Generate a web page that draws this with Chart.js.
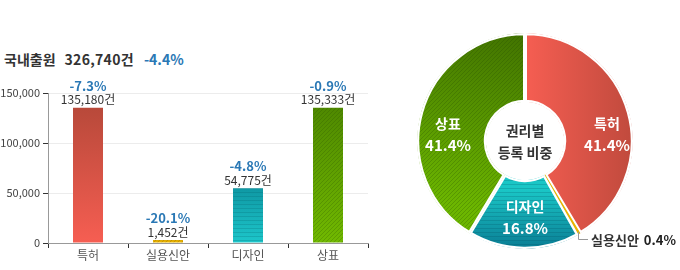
<!DOCTYPE html>
<html>
<head>
<meta charset="utf-8">
<script src="https://cdn.jsdelivr.net/npm/chart.js@4"></script>
<style>
    body { margin: 0; width: 680px; height: 270px; overflow: hidden; background: #fff; font-family: "Noto Sans CJK KR", sans-serif; }
    .title { position: absolute; left: 4px; top: 49px; font-size: 14px; font-weight: bold; color: #333; white-space: nowrap; }
    .title .rate { color: #2a78b5; margin-left: 10px; }
    .title .total { margin-left: 9px; letter-spacing: 0.3px; }
    #bar { position: absolute; left: 0; top: 0; }
    #pie { position: absolute; left: 400px; top: 0; }
</style>
</head>
<body>
<div class="title">국내출원<span class="total"></span><span class="rate"></span></div>
<canvas id="bar" width="380" height="270"></canvas>
<canvas id="pie" width="280" height="270"></canvas>
<script>
// data
const categories = ["특허", "실용신안", "디자인", "상표"];
const counts = [135180, 1452, 54775, 135333];
const changes = ["-7.3%", "-20.1%", "-4.8%", "-0.9%"];
const shares = [41.4, 0.4, 16.8, 41.4];
const yTicks = [0, 50000, 100000, 150000];
const totalCount = "326,740건";
const totalChange = "-4.4%";

const FONT = "'Noto Sans CJK KR', sans-serif";
const BLUE = "#2a78b5";

document.querySelector(".title .total").textContent = totalCount;
document.querySelector(".title .rate").textContent = totalChange;

// fill = gradient + optional stripes, painted on a canvas the size of the chart
const makeFill = (chart, paint, stripe, dir, gap) => {
    const c = document.createElement("canvas");
    c.width = chart.width;
    c.height = chart.height;
    const g = c.getContext("2d");
    g.fillStyle = paint(g);
    g.fillRect(0, 0, c.width, c.height);
    if (stripe) {
        g.strokeStyle = stripe;
        g.lineWidth = 1;
        g.beginPath();
        if (dir === "h") {
            for (let y = 0.5; y < c.height; y += gap) { g.moveTo(0, y); g.lineTo(c.width, y); }
        } else {
            for (let x = -c.height; x < c.width; x += gap) { g.moveTo(x, c.height); g.lineTo(x + c.height, 0); }
        }
        g.stroke();
    }
    return chart.ctx.createPattern(c, "no-repeat");
};

const grad = (x0, y0, x1, y1, stops) => g => {
    const gr = g.createLinearGradient(x0, y0, x1, y1);
    stops.forEach((s, i) => gr.addColorStop(i / (stops.length - 1), s));
    return gr;
};

// ===========================================================================
// bar chart
const barFill = (ctx) => {
    const chart = ctx.chart;
    if (!chart.chartArea) return "#ccc";
    const y = chart.scales.y;
    const i = ctx.dataIndex;
    const top = y.getPixelForValue(counts[i]);
    const base = y.getPixelForValue(0);
    if (i === 0) return makeFill(chart, grad(0, top, 0, base, ["#b8493a", "#f65e52"]));
    if (i === 1) return makeFill(chart, grad(0, top - 2, 0, base, ["#d9a400", "#eebb00"]), "rgba(150,100,0,0.35)", "d", 4);
    if (i === 2) return makeFill(chart, grad(0, top, 0, base, ["#0f98a4", "#1dc6ca"]), "rgba(0,90,100,0.2)", "h", 4);
    return makeFill(chart, grad(0, top, 0, base, ["#4f8900", "#71b900"]), "rgba(40,80,0,0.25)", "d", 4);
};

const barLabels = {
    id: "barLabels",
    afterDatasetsDraw(chart) {
        const c = chart.ctx;
        c.save();
        c.textAlign = "center";
        c.textBaseline = "middle";
        chart.getDatasetMeta(0).data.forEach((el, i) => {
            c.fillStyle = "#333";
            c.font = "12px " + FONT;
            c.fillText(counts[i].toLocaleString("en-US") + "건", el.x, el.y - 8);
            c.fillStyle = BLUE;
            c.font = "bold 13px " + FONT;
            c.fillText(changes[i], el.x, el.y - 22);
        });
        c.restore();
    }
};

new Chart(document.getElementById("bar"), {
    type: "bar",
    data: {
        labels: categories,
        datasets: [{
            data: counts,
            backgroundColor: barFill,
            barPercentage: 0.75,
            categoryPercentage: 0.5,
            minBarLength: 3
        }]
    },
    options: {
        responsive: false,
        animation: false,
        events: [],
        layout: { padding: { top: 93, right: 12, left: 0, bottom: 0 } },
        plugins: { legend: { display: false }, tooltip: { enabled: false } },
        scales: {
            y: {
                min: 0,
                max: yTicks[yTicks.length - 1],
                afterBuildTicks: s => { s.ticks = yTicks.map(v => ({ value: v })); },
                afterFit: s => { s.width = 48; },
                ticks: {
                    color: "#444",
                    font: { family: FONT, size: 11 },
                    padding: 3,
                    callback: v => v.toLocaleString("en-US")
                },
                grid: { color: "#ececec", tickColor: "#333", tickLength: 5 },
                border: { color: "#999" }
            },
            x: {
                afterFit: s => { s.height = 27; },
                ticks: { color: "#555", font: { family: FONT, size: 12 }, padding: 0 },
                grid: { drawOnChartArea: false, offset: true, tickColor: "#333", tickLength: 5 },
                border: { color: "#999" }
            }
        }
    },
    plugins: [barLabels]
});

// ===========================================================================
// doughnut
const pieFill = (ctx) => {
    const chart = ctx.chart;
    const a = chart.chartArea;
    if (!a) return "#ccc";
    const cx = (a.left + a.right) / 2, cy = (a.top + a.bottom) / 2;
    const r = Math.min(a.width, a.height) / 2;
    const i = ctx.dataIndex;
    if (i === 0) return makeFill(chart, grad(cx, 0, cx + r, 0, ["#f65e52", "#c04a3d"]));
    if (i === 1) return "#e8b400";
    if (i === 2) return makeFill(chart, grad(0, cy + r * 0.45, 0, cy + r, ["#1ac6c6", "#0a7d94"]), "rgba(0,70,90,0.2)", "h", 4);
    return makeFill(chart, grad(cx - r * 0.3, cy - r, cx - r * 0.6, cy + r * 0.6, ["#437500", "#6cb600"]), "rgba(30,70,0,0.25)", "d", 4);
};

const pieLabels = {
    id: "pieLabels",
    afterDatasetsDraw(chart) {
        const c = chart.ctx;
        const a = chart.chartArea;
        const cx = (a.left + a.right) / 2, cy = (a.top + a.bottom) / 2;
        const arcs = chart.getDatasetMeta(0).data;
        c.save();
        c.textAlign = "center";
        c.textBaseline = "middle";

        // center
        c.fillStyle = "#333";
        c.font = "bold 14px " + FONT;
        c.fillText("권리별", cx, cy - 10);
        c.fillText("등록 비중", cx, cy + 12);

        // slice labels
        const spots = { 0: [82, -6], 2: [0, 77], 3: [-77, -6] };
        Object.keys(spots).forEach(k => {
            const [dx, dy] = spots[k];
            c.fillStyle = "#fff";
            c.font = "bold 14px " + FONT;
            c.fillText(categories[k], cx + dx, cy + dy - 11);
            c.font = "bold 15px " + FONT;
            c.fillText(shares[k].toFixed(1) + "%", cx + dx, cy + dy + 10);
        });

        // callout for the small slice
        const el = arcs[1];
        const mid = (el.startAngle + el.endAngle) / 2;
        const px = el.x + Math.cos(mid) * (el.outerRadius - 3);
        const py = el.y + Math.sin(mid) * (el.outerRadius - 3);
        c.strokeStyle = "#999";
        c.lineWidth = 1;
        c.beginPath();
        c.moveTo(Math.round(px) + 0.5, py);
        c.lineTo(Math.round(px) + 0.5, cy + 98.5);
        c.lineTo(Math.round(px) + 10, cy + 98.5);
        c.stroke();
        c.textAlign = "left";
        c.fillStyle = "#333";
        c.font = "bold 13px " + FONT;
        const t = categories[1];
        c.fillText(t, Math.round(px) + 13, cy + 99);
        c.fillStyle = "#222";
        c.fillText(shares[1].toFixed(1) + "%", Math.round(px) + 18 + c.measureText(t).width, cy + 99);
        c.restore();
    }
};

new Chart(document.getElementById("pie"), {
    type: "doughnut",
    data: {
        labels: categories,
        datasets: [{
            data: shares,
            backgroundColor: pieFill,
            borderColor: "#fff",
            borderWidth: [2, 0, 2, 2],
            borderAlign: "inner",
            hoverOffset: 0,
            offset: 0
        }]
    },
    options: {
        responsive: false,
        animation: false,
        events: [],
        cutout: "36%",
        layout: { padding: { left: 17, right: 47, top: 33, bottom: 21 } },
        plugins: { legend: { display: false }, tooltip: { enabled: false } }
    },
    plugins: [pieLabels]
});
</script>
</body>
</html>
